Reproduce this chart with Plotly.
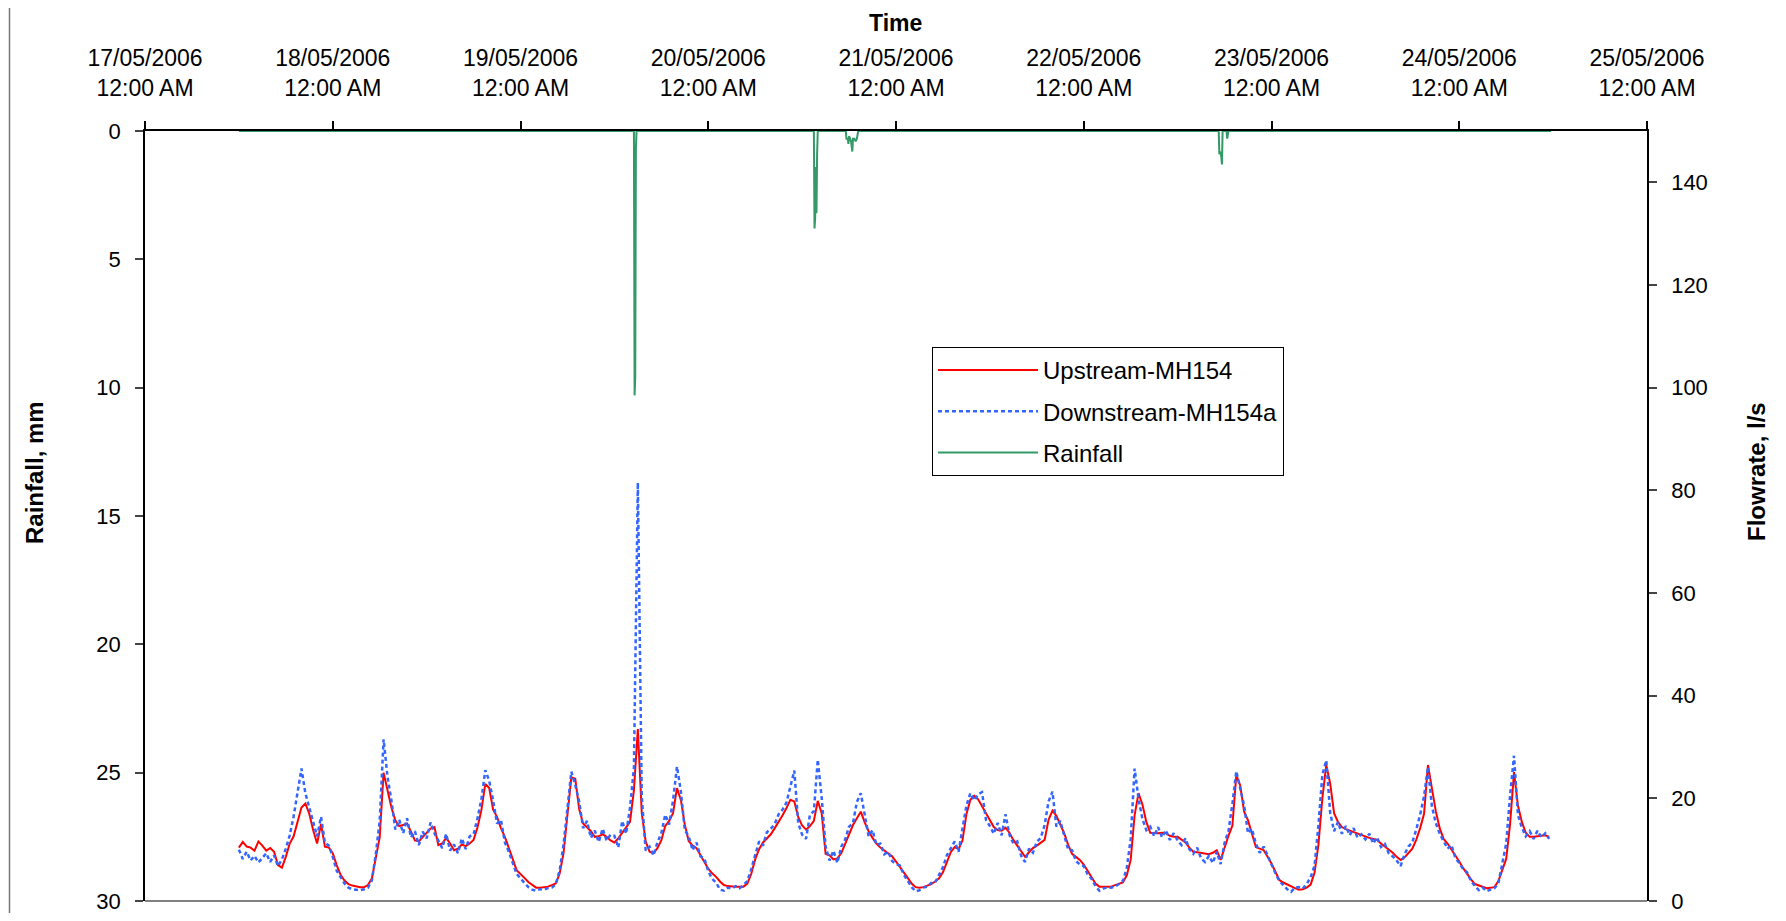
import pandas as pd
import plotly.graph_objects as go

# ---------------- data ----------------
SERIES_START = "2006-05-17 12:00"   # first flow reading
STEP_MINUTES = 30                   # flow readings every 30 minutes

# Upstream-MH154 flowrate, l/s
upstream_mh154 = [
    # 17/05 12:00 - 23:30
    10.4, 11.5, 10.6, 10.4, 9.8, 11.6, 10.8, 9.8, 10.3, 9.6, 7.0, 6.5,
    8.6, 11.2, 12.6, 15.3, 18.2, 19.0, 17.0, 13.8, 11.2, 15.0, 10.6, 10.4,
    # 18/05 00:00 - 11:30
    9.3, 7.0, 5.1, 4.0, 3.3, 3.0, 2.8, 2.7, 2.7, 3.1, 4.4, 8.3,
    12.4, 25.0, 21.5, 18.2, 15.7, 14.6, 14.8, 15.1, 13.5, 11.8, 11.6, 12.4,
    # 18/05 12:00 - 23:30
    13.1, 14.1, 14.4, 10.9, 11.2, 12.3, 11.2, 9.9, 10.2, 11.0, 10.7, 11.2,
    11.9, 14.3, 17.7, 22.8, 22.0, 17.8, 16.4, 14.2, 12.5, 10.5, 8.2, 6.0,
    # 19/05 00:00 - 11:30
    5.3, 4.5, 3.7, 3.1, 2.6, 2.6, 2.7, 2.8, 3.1, 3.4, 5.3, 9.3,
    16.8, 24.1, 23.8, 17.9, 15.1, 14.4, 13.6, 12.5, 12.6, 13.0, 12.5, 11.8,
    # 19/05 12:00 - 23:30
    11.4, 12.2, 13.2, 14.3, 15.4, 21.6, 33.5, 17.1, 11.6, 9.6, 9.3, 10.3,
    11.8, 14.6, 15.6, 17.1, 22.0, 19.7, 14.9, 11.7, 10.8, 10.3, 9.0, 7.8,
    # 20/05 00:00 - 11:30
    6.3, 5.4, 4.7, 3.8, 3.1, 2.9, 2.8, 2.8, 2.8, 2.8, 3.4, 5.3,
    8.1, 10.1, 11.4, 12.2, 13.0, 14.2, 15.4, 16.7, 18.1, 19.7, 19.4, 16.4,
    # 20/05 12:00 - 23:30
    14.7, 13.9, 14.6, 15.6, 19.5, 17.1, 9.2, 8.9, 8.1, 8.3, 9.3, 11.2,
    13.0, 14.8, 16.1, 17.4, 15.3, 13.6, 12.3, 11.2, 10.4, 9.8, 9.3, 8.7,
    # 21/05 00:00 - 11:30
    7.7, 6.7, 5.6, 4.5, 3.4, 2.7, 2.6, 2.7, 3.0, 3.3, 3.8, 4.4,
    5.6, 7.7, 9.5, 10.5, 10.1, 11.8, 16.9, 19.7, 20.5, 19.8, 18.5, 17.1,
    # 21/05 12:00 - 23:30
    15.7, 14.4, 13.8, 13.7, 14.3, 13.3, 11.9, 10.8, 9.7, 8.6, 9.5, 10.3,
    10.8, 11.4, 11.9, 15.8, 17.6, 16.6, 15.0, 13.2, 11.0, 9.2, 8.6, 8.0,
    # 22/05 00:00 - 11:30
    7.1, 5.9, 4.6, 3.4, 2.8, 2.8, 2.8, 2.8, 3.1, 3.4, 3.6, 5.0,
    8.0, 16.7, 21.0, 18.8, 15.4, 13.3, 13.2, 13.2, 13.3, 13.2, 12.7, 12.5,
    # 22/05 12:00 - 23:30
    12.5, 12.0, 11.4, 10.4, 9.6, 9.5, 9.4, 9.3, 9.1, 9.4, 9.9, 8.0,
    10.4, 12.7, 14.7, 24.5, 22.5, 17.4, 15.7, 13.0, 10.5, 10.2, 9.9, 8.6,
    # 23/05 00:00 - 11:30
    7.3, 5.7, 4.1, 3.6, 3.2, 2.8, 2.5, 2.2, 2.3, 2.6, 3.2, 5.5,
    11.0, 20.0, 26.5, 22.9, 17.1, 15.4, 14.4, 14.0, 13.7, 13.4, 13.1, 12.8,
    # 23/05 12:00 - 23:30
    12.5, 12.3, 12.1, 11.9, 11.2, 10.6, 10.0, 9.4, 8.6, 8.0, 8.5, 9.3,
    10.2, 11.9, 14.2, 17.0, 26.5, 22.0, 17.5, 14.2, 12.1, 11.2, 10.1, 9.0,
    # 24/05 00:00 - 11:30
    7.7, 6.4, 5.2, 4.2, 3.3, 3.0, 2.7, 2.5, 2.6, 2.7, 3.9, 6.2,
    8.2, 15.0, 25.1, 18.6, 15.4, 13.3, 12.5, 12.5, 12.6, 12.8, 12.8, 12.5,
]

# Downstream-MH154a flowrate, l/s
downstream_mh154a = [
    # 17/05 12:00 - 23:30
    10.0, 8.2, 9.6, 7.9, 8.8, 7.5, 8.4, 9.3, 7.6, 8.9, 6.8, 8.1,
    10.2, 12.8, 16.5, 21.4, 25.8, 21.0, 18.2, 14.9, 12.6, 16.4, 11.3, 10.8,
    # 18/05 00:00 - 11:30
    8.6, 5.9, 4.6, 3.4, 2.6, 2.3, 2.2, 2.1, 2.3, 2.6, 4.0, 9.1,
    15.6, 31.5, 24.2, 19.6, 13.9, 15.8, 13.2, 16.1, 12.4, 13.6, 10.9, 13.5,
    # 18/05 12:00 - 23:30
    12.2, 15.3, 13.2, 11.8, 10.3, 13.1, 9.8, 11.0, 9.3, 12.2, 10.1, 12.6,
    13.0, 16.1, 19.8, 25.5, 23.4, 19.6, 15.1, 15.8, 11.4, 9.6, 7.4, 5.3,
    # 19/05 00:00 - 11:30
    4.4, 3.6, 2.7, 2.2, 2.0, 2.3, 2.2, 2.5, 2.6, 3.2, 5.9, 11.0,
    18.3, 25.2, 22.6, 19.4, 14.2, 15.6, 12.3, 13.7, 11.5, 14.1, 11.8, 12.9,
    # 19/05 12:00 - 23:30
    12.7, 10.4, 15.6, 13.1, 18.2, 26.0, 81.5, 20.4, 9.8, 10.6, 8.9, 11.4,
    13.2, 16.8, 14.9, 19.6, 26.2, 21.4, 13.8, 12.6, 9.9, 11.4, 8.7, 8.3,
    # 20/05 00:00 - 11:30
    5.8, 4.3, 3.6, 2.2, 2.0, 2.6, 2.4, 2.9, 2.5, 3.1, 3.9, 6.2,
    9.0, 11.6, 10.8, 13.4, 14.1, 15.0, 16.9, 17.8, 19.2, 22.6, 25.4, 15.2,
    # 20/05 12:00 - 23:30
    12.9, 12.1, 16.8, 17.5, 27.5, 20.1, 10.6, 7.9, 9.8, 7.4, 10.6, 12.0,
    14.5, 15.2, 19.3, 21.0, 16.7, 12.6, 13.8, 10.9, 11.2, 9.1, 9.6, 7.8,
    # 21/05 00:00 - 11:30
    7.2, 6.9, 5.1, 4.0, 2.7, 1.9, 2.1, 2.6, 2.8, 3.5, 3.6, 5.1,
    6.6, 8.9, 10.2, 11.6, 9.6, 14.2, 18.6, 21.0, 19.6, 20.8, 21.2, 15.8,
    # 21/05 12:00 - 23:30
    14.6, 13.1, 15.2, 12.8, 16.9, 12.9, 11.2, 11.6, 8.8, 7.6, 10.2, 9.4,
    11.5, 12.3, 14.8, 19.4, 21.3, 14.5, 15.6, 12.8, 10.1, 9.9, 7.8, 7.1,
    # 22/05 00:00 - 11:30
    6.8, 5.2, 4.3, 2.9, 2.0, 2.4, 2.7, 2.6, 2.8, 3.3, 3.9, 6.4,
    12.1, 25.8, 19.9, 16.0, 13.8, 14.5, 12.6, 14.4, 12.4, 13.8, 11.9, 13.2,
    # 22/05 12:00 - 23:30
    11.8, 10.9, 12.2, 10.1, 9.2, 10.4, 8.3, 7.6, 8.8, 7.4, 9.6, 7.2,
    11.3, 13.6, 18.9, 25.3, 21.8, 18.6, 13.2, 14.1, 11.2, 9.4, 10.6, 8.9,
    # 23/05 00:00 - 11:30
    6.9, 5.4, 3.9, 3.1, 2.3, 1.8, 2.6, 2.7, 2.4, 3.3, 4.6, 6.9,
    14.8, 24.6, 27.4, 17.2, 13.6, 15.4, 13.1, 14.6, 12.8, 14.2, 12.3, 13.0,
    # 23/05 12:00 - 23:30
    12.0, 13.1, 11.2, 12.4, 10.5, 11.1, 9.2, 8.7, 7.9, 6.8, 9.1, 10.6,
    11.4, 13.9, 16.8, 20.4, 26.1, 18.5, 15.2, 13.1, 11.6, 10.2, 10.9, 8.4,
    # 24/05 00:00 - 11:30
    7.4, 6.2, 5.6, 3.9, 2.9, 2.1, 2.6, 1.9, 2.2, 2.5, 3.4, 7.0,
    11.2, 20.6, 28.3, 16.8, 14.3, 12.6, 13.6, 12.1, 13.7, 12.4, 13.2, 12.1,
]

# Rainfall, mm (5-minute readings around the showers, zero otherwise)
rain_times = [
    "2006-05-17 12:00",
    "2006-05-19 14:30", "2006-05-19 14:35", "2006-05-19 14:40", "2006-05-19 14:45", "2006-05-19 14:50",
    "2006-05-20 13:30", "2006-05-20 13:35", "2006-05-20 13:40", "2006-05-20 13:45",
    "2006-05-20 13:50", "2006-05-20 13:55", "2006-05-20 14:00",
    "2006-05-20 17:35", "2006-05-20 17:40", "2006-05-20 17:50", "2006-05-20 17:55",
    "2006-05-20 18:00", "2006-05-20 18:15", "2006-05-20 18:25", "2006-05-20 18:30",
    "2006-05-20 18:40", "2006-05-20 18:50", "2006-05-20 19:00", "2006-05-20 19:10",
    "2006-05-22 17:15", "2006-05-22 17:20", "2006-05-22 17:25", "2006-05-22 17:35",
    "2006-05-22 17:40", "2006-05-22 17:45",
    "2006-05-22 18:15", "2006-05-22 18:20", "2006-05-22 18:25", "2006-05-22 18:30",
    "2006-05-24 11:45",
]
rain_mm = [
    0,
    0, 10.3, 9.6, 0.7, 0,
    0, 3.8, 3.4, 1.4,
    3.2, 0.9, 0,
    0, 0.3, 0.3, 0.5,
    0.2, 0.4, 0.8, 0.3,
    0.3, 0.4, 0.3, 0,
    0, 0.9, 0.8, 1.0,
    1.3, 0,
    0, 0.3, 0.1, 0,
    0,
]

day_ticks = ["2006-05-17", "2006-05-18", "2006-05-19", "2006-05-20", "2006-05-21",
             "2006-05-22", "2006-05-23", "2006-05-24", "2006-05-25"]
day_tick_labels = ["17/05/2006<br>12:00 AM", "18/05/2006<br>12:00 AM", "19/05/2006<br>12:00 AM",
                   "20/05/2006<br>12:00 AM", "21/05/2006<br>12:00 AM", "22/05/2006<br>12:00 AM",
                   "23/05/2006<br>12:00 AM", "24/05/2006<br>12:00 AM", "25/05/2006<br>12:00 AM"]
rain_ticks = [0, 5, 10, 15, 20, 25, 30]
flow_ticks = [0, 20, 40, 60, 80, 100, 120, 140]

# ---------------- figure ----------------
FONT = "Liberation Sans, Arial, sans-serif"
OFF = 8                      # page body margin that offsets the figure
VW, VH = 1786, 921           # window size
W, H = VW - OFF, VH - 2 * OFF
# desired plot area in window pixels
PL, PR, PT, PB = 145, 1647, 131, 901
L, T = PL - OFF, PT - OFF
R = W - (PR - OFF)
B = H - (PB - OFF)
PW, PH = PR - PL, PB - PT

def px_x(x):  # window pixel -> paper x
    return (x - PL) / PW

def px_y(y):  # window pixel -> paper y
    return (PB - y) / PH

times = pd.date_range(SERIES_START, periods=len(upstream_mh154), freq=f"{STEP_MINUTES}min")

fig = go.Figure()
fig.add_trace(go.Scatter(
    x=times, y=upstream_mh154, name="Upstream-MH154", mode="lines",
    line=dict(color="#FF0000", width=2), yaxis="y2", legendgroup="a"))
fig.add_trace(go.Scatter(
    x=times, y=downstream_mh154a, name="Downstream-MH154a", mode="lines",
    line=dict(color="#3366FF", width=2.5, dash="4px,3px"), yaxis="y2", legendgroup="b"))
fig.add_trace(go.Scatter(
    x=pd.to_datetime(rain_times), y=rain_mm, name="Rainfall", mode="lines",
    line=dict(color="#339966", width=2), yaxis="y", legendgroup="c"))

axis_font = dict(family=FONT, size=22, color="black")

fig.update_layout(
    width=W, height=H,
    margin=dict(l=L, r=R, t=T, b=B, autoexpand=False),
    paper_bgcolor="white", plot_bgcolor="white",
    font=dict(family=FONT, size=22, color="black"),
    showlegend=True,
    legend=dict(
        x=px_x(932), y=px_y(347), xanchor="left", yanchor="top",
        bgcolor="white", bordercolor="black", borderwidth=1,
        font=dict(family=FONT, size=24, color="black"),
        itemwidth=100, tracegroupgap=7,
    ),
    xaxis=dict(
        type="date", side="top",
        range=["2006-05-17 00:00", "2006-05-25 00:00"],
        tickmode="array", tickvals=day_ticks, ticktext=day_tick_labels,
        ticks="outside", ticklen=8, tickwidth=1.5, tickcolor="black",
        showline=True, linecolor="black", linewidth=1.5,
        showgrid=False, zeroline=False,
        tickfont=dict(family=FONT, size=23, color="black"),
        ticklabelstandoff=16, ticklabeloverflow="allow",
    ),
    yaxis=dict(
        range=[30, 0], tickmode="array", tickvals=rain_ticks,
        ticks="outside", ticklen=8, tickwidth=1.5, tickcolor="#444444",
        showline=True, linecolor="black", linewidth=1.5,
        showgrid=False, zeroline=False,
        tickfont=axis_font, ticklabelstandoff=10, ticklabeloverflow="allow",
    ),
    yaxis2=dict(
        overlaying="y", side="right",
        range=[0, 150], tickmode="array", tickvals=flow_ticks,
        ticks="outside", ticklen=8, tickwidth=1.5, tickcolor="#444444",
        showline=True, linecolor="black", linewidth=1.5,
        showgrid=False, zeroline=False,
        tickfont=axis_font, ticklabelstandoff=10, ticklabeloverflow="allow",
    ),
    annotations=[
        dict(text="<b>Time</b>", xref="paper", yref="paper",
             x=px_x(895), y=px_y(23), showarrow=False,
             font=dict(family=FONT, size=23, color="black"),
             xanchor="center", yanchor="middle"),
        dict(text="<b>Rainfall, mm</b>", xref="paper", yref="paper",
             x=px_x(34), y=px_y(473), showarrow=False, textangle=-90,
             font=dict(family=FONT, size=24, color="black"),
             xanchor="center", yanchor="middle"),
        dict(text="<b>Flowrate, l/s</b>", xref="paper", yref="paper",
             x=px_x(1756), y=px_y(471), showarrow=False, textangle=-90,
             font=dict(family=FONT, size=24, color="black"),
             xanchor="center", yanchor="middle"),
    ],
    shapes=[
        # plot-area bottom border
        dict(type="line", xref="paper", yref="paper", x0=0, x1=1, y0=0, y1=0,
             line=dict(color="#808080", width=2)),
        # chart-area left border
        dict(type="line", xref="paper", yref="paper", x0=px_x(OFF + 1.5), x1=px_x(OFF + 1.5),
             y0=px_y(OFF + H), y1=px_y(OFF), line=dict(color="#777777", width=1.5)),
    ],
)

fig.write_html("out.html", config={"displayModeBar": False})
